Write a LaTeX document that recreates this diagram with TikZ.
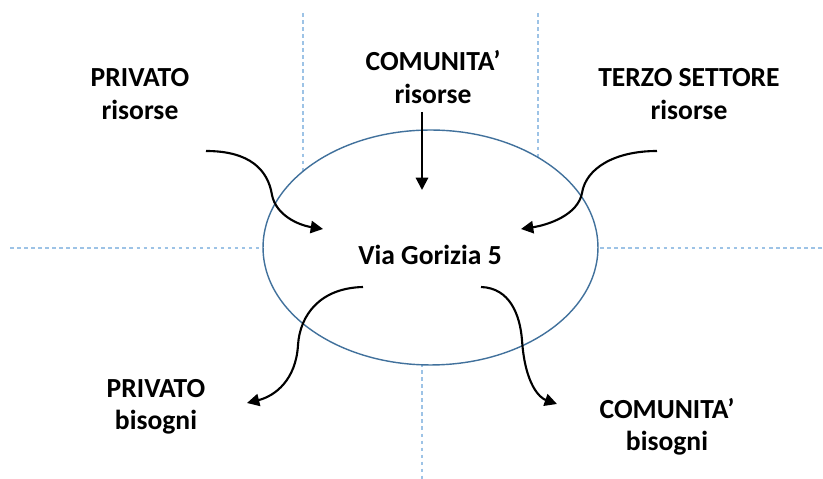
\documentclass[tikz,border=0pt]{standalone}
\usepackage{fontspec}
\setmainfont{Carlito}
\usepackage{xcolor}
\usetikzlibrary{shapes.geometric,arrows.meta}
\definecolor{bordo}{HTML}{41719C}
\definecolor{azzurro}{HTML}{9DC3E6}

\begin{document}
\begin{tikzpicture}[x=0.02cm,y=-0.02cm,
        etichetta/.style={align=center, font=\fontsize{15.7}{18.5}\selectfont\bfseries},
        freccia/.style={line width=1.2pt, -{Triangle[length=7pt,width=7pt]}},
        griglia/.style={azzurro, line width=0.6pt, dash pattern=on 2pt off 2pt}]
        \useasboundingbox (0,0) rectangle (823,479);
        \draw[griglia] (303,13)--(303,250);
        \draw[griglia] (538,13)--(538,250);
        \draw[griglia] (422,300)--(422,479);
        \draw[griglia] (10,248)--(823,248);

        \node[ellipse, draw=bordo, line width=0.8pt, fill=white, minimum width=6.7cm, minimum height=4.7cm, inner sep=0pt] (nucleo) at (430.5,247.5) {};

        \node[etichetta] (via) at (430,255) {Via Gorizia 5};
        \node[etichetta] (privatoR) at (140,94) {PRIVATO\\risorse};
        \node[etichetta] (comunitaR) at (433,77) {COMUNITA’\\risorse};
        \node[etichetta] (terzoR) at (689,94) {TERZO SETTORE\\risorse};
        \node[etichetta] (privatoB) at (156,407) {PRIVATO\\bisogni};
        \node[etichetta] (comunitaB) at (667,427) {COMUNITA’\\bisogni};

        \coordinate (pr1) at (206,151);
        \coordinate (pr2) at (323,229);
        \coordinate (cr1) at (422,112);
        \coordinate (cr2) at (422,190);
        \coordinate (tr1) at (657,151);
        \coordinate (tr2) at (521,229);
        \coordinate (pb1) at (363,287);
        \coordinate (pb2) at (247,403);
        \coordinate (cb1) at (481,287);
        \coordinate (cb2) at (557,404);

        \draw[freccia] (pr1) .. controls (250,151) and (268,170) .. (272,195) .. controls (276,215) and (298,225) .. (pr2);
        \draw[freccia] (cr1)--(cr2);
        \draw[freccia] (tr1) .. controls (615,151) and (586,168) .. (582,193) .. controls (578,215) and (548,225) .. (tr2);
        \draw[freccia] (pb1) .. controls (320,288) and (300,315) .. (298,345) .. controls (296,380) and (275,396) .. (pb2);
        \draw[freccia] (cb1) .. controls (510,288) and (520,315) .. (522,340) .. controls (525,385) and (540,398) .. (cb2);
\end{tikzpicture}
\end{document}
